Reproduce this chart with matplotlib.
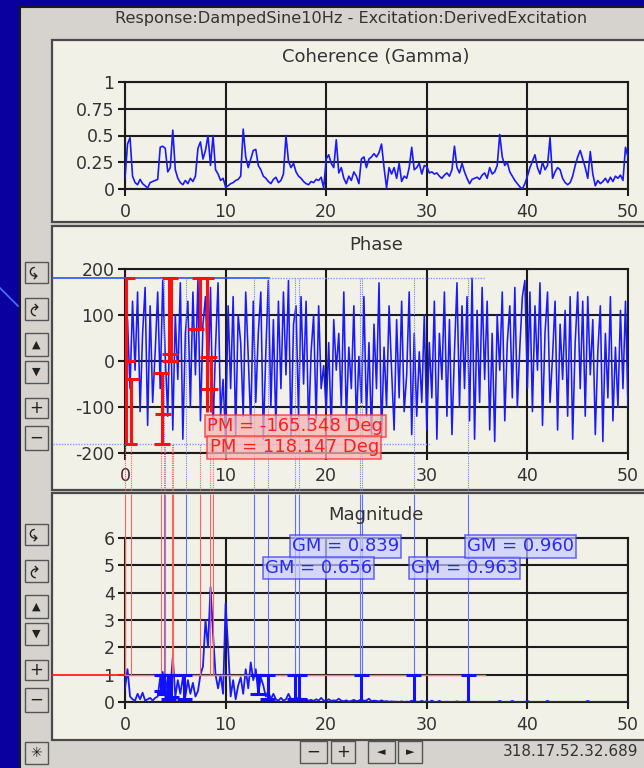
import matplotlib
matplotlib.use("Agg")
import matplotlib.pyplot as plt
import numpy as np
from matplotlib.patches import Rectangle

W, H = 644, 768

# ---- data ----
FREQ = np.arange(0, 50.01, 0.25)  # Hz bins

COHERENCE = [
    0.10, 0.42, 0.48, 0.12, 0.06, 0.04, 0.09, 0.05, 0.03, 0.01, 0.06, 0.07, 0.08, 0.09, 0.39, 0.40, 0.38, 0.16, 0.20, 0.55,
    0.18, 0.10, 0.06, 0.04, 0.08, 0.05, 0.10, 0.07, 0.12, 0.38, 0.44, 0.28, 0.36, 0.50, 0.22, 0.50, 0.18, 0.14, 0.08, 0.10,
    0.02, 0.03, 0.05, 0.06, 0.08, 0.09, 0.12, 0.56, 0.30, 0.20, 0.28, 0.36, 0.37, 0.22, 0.18, 0.12, 0.10, 0.07, 0.05, 0.09,
    0.11, 0.06, 0.08, 0.14, 0.50, 0.26, 0.20, 0.24, 0.16, 0.12, 0.10, 0.07, 0.05, 0.04, 0.07, 0.06, 0.09, 0.08, 0.11, 0.01,
    0.28, 0.32, 0.24, 0.20, 0.46, 0.15, 0.20, 0.10, 0.05, 0.12, 0.08, 0.16, 0.12, 0.05, 0.28, 0.30, 0.20, 0.28, 0.30, 0.33,
    0.30, 0.34, 0.42, 0.20, 0.01, 0.20, 0.14, 0.20, 0.10, 0.24, 0.07, 0.12, 0.10, 0.20, 0.39, 0.18, 0.20, 0.24, 0.14, 0.22,
    0.21, 0.15, 0.16, 0.14, 0.15, 0.12, 0.10, 0.13, 0.15, 0.12, 0.18, 0.40, 0.20, 0.15, 0.24, 0.16, 0.10, 0.05, 0.09, 0.10,
    0.11, 0.09, 0.13, 0.15, 0.10, 0.20, 0.14, 0.16, 0.22, 0.51, 0.30, 0.22, 0.25, 0.16, 0.12, 0.08, 0.05, 0.02, 0.00, 0.05,
    0.12, 0.20, 0.26, 0.32, 0.20, 0.14, 0.25, 0.18, 0.22, 0.48, 0.10, 0.16, 0.20, 0.18, 0.10, 0.06, 0.04, 0.06, 0.12, 0.22,
    0.30, 0.36, 0.28, 0.20, 0.10, 0.35, 0.14, 0.03, 0.08, 0.05, 0.07, 0.10, 0.06, 0.11, 0.07, 0.12, 0.10, 0.13, 0.08, 0.39,
    0.30,
]

PHASE = [
    0, 90, -60, 130, -20, 150, -110, 60, 160, -140, 120, -90, 20, 150, -60, 175, 10, -120, 140, -150,
    100, -40, 170, -170, 60, 130, -100, 150, -30, 175, -130, 80, 140, -60, 160, -150, 30, 170, -120, -40,
    -170, 120, -60, 140, -160, 100, 40, -120, 150, 10, -140, 130, -90, 60, 150, -170, 20, 175, -100, 90,
    -150, 130, -60, 150, -30, 175, -170, 80, 120, -120, 140, -50, 130, -150, 20, 100, -130, 120, -60, -10,
    -110, 40, -150, 90, -20, 60, -100, 150, -130, 30, -60, 120, -140, 10, -90, 140, -120, 40, -160, 80,
    -60, 170, -165, 30, -100, 120, -20, -150, 90, -80, 130, -110, -30, 150, -160, 60, -120, 20, -90, 100,
    -150, 40, -80, 130, -170, 60, -40, 150, -120, 90, -160, 20, 170, -100, 120, -60, 140, -130, 180, -170,
    110, -90, 160, -40, 130, -150, 60, -175, 100, -20, 150, -130, 40, 120, -80, 160, -100, 30, 140, 175,
    -60, 150, -110, 120, -20, 170, -140, 60, 150, -90, 10, 130, -150, 80, -40, 110, -120, 140, -170, 40,
    150, -60, 130, -120, 140, -30, 90, -160, 20, 120, -175, 60, -80, 140, -130, 30, -100, 110, -60, 130,
    -100,
]

MAGNITUDE = [
    0.5, 1.2, 0.2, 0.1, 0.05, 0.3, 0.1, 0.34, 0.05, 0.1, 0.15, 0.05, 0.15, 0.2, 0.9, 1.1, 0.3, 0.9, 0.4, 1.65,
    0.2, 0.8, 0.3, 0.9, 0.2, 0.8, 0.3, 0.7, 0.2, 0.4, 1.0, 1.3, 3.0, 2.0, 4.2, 2.5, 1.0, 0.5, 1.0, 0.3,
    3.6, 2.0, 0.2, 0.8, 0.1, 0.6, 0.9, 0.3, 1.2, 0.5, 1.45, 0.8, 1.2, 0.3, 0.9, 0.6, 0.2, 0.4, 0.1, 0.3,
    0.1, 0.05, 0.15, 0.05, 0.1, 0.3, 0.1, 0.05, 0.2, 0.05, 0.1, 0.05, 0.1, 0.05, 0.08, 0.04, 0.1, 0.05, 0.15, 0.05,
    0.05, 0.1, 0.04, 0.06, 0.05, 0.12, 0.05, 0.03, 0.06, 0.02, 0.04, 0.08, 0.03, 0.05, 0.1, 0.04, 0.06, 0.12, 0.03, 0.05,
    0.04, 0.02, 0.06, 0.02, 0.03, 0.01, 0.02, 0.01, 0.01, 0.0, 0.02, 0.0, 0.01, 0.0, 0.05, 0.0, 0.01, 0.0, 0.04, 0.0,
    0.03, 0.0, 0.05, 0.0, 0.0, 0.04, 0.0, 0.0, 0.01, 0.0, 0.0, 0.0, 0.02, 0.0, 0.0, 0.0, 0.01, 0.0, 0.0, 0.0,
    0.0, 0.0, 0.0, 0.0, 0.0, 0.0, 0.0, 0.0, 0.0, 0.04, 0.0, 0.0, 0.0, 0.0, 0.04, 0.0, 0.0, 0.0, 0.0, 0.0,
    0.04, 0.0, 0.0, 0.0, 0.0, 0.0, 0.0, 0.0, 0.04, 0.0, 0.0, 0.0, 0.0, 0.0, 0.0, 0.0, 0.0, 0.0, 0.0, 0.0,
    0.0, 0.0, 0.0, 0.0, 0.04, 0.0, 0.0, 0.0, 0.0, 0.0, 0.0, 0.0, 0.0, 0.0, 0.0, 0.0, 0.0, 0.0, 0.0, 0.0,
    0.0,
]

X_TICKS = [0, 10, 20, 30, 40, 50]
COH_TICKS = [0, 0.25, 0.5, 0.75, 1]
COH_LABELS = ["0", "0.25", "0.5", "0.75", "1"]
PHASE_TICKS = [-200, -100, 0, 100, 200]
MAG_TICKS = [0, 1, 2, 3, 4, 5, 6]

# phase-margin cursor: red bar segments (x, lo, hi) and caps (x, y)
PM_SEG_X = [0.1, 0.6, 3.7, 4.4, 4.6, 7.5, 8.2, 8.5]
PM_SEG_LO = [-180, -180, -180, 0, 0, 70, -110, -110]
PM_SEG_HI = [180, -40, -25, 180, 180, 180, 180, 10]
PM_CAP_X = [0.2, 0.2, 0.6, 0.4, 3.6, 3.8, 3.7, 4.5, 4.5, 4.5, 7.5, 7.1, 8.0, 8.3, 8.4]
PM_CAP_Y = [180, 0, -40, -180, -25, -115, -180, 180, 15, 0, 180, 70, 180, 8, -60]
PM_LINES_X = [0.0, 0.55, 3.6, 4.0, 4.65, 4.8, 7.45, 8.4, 8.7]
PM_TEXT = ["PM = -165.348 Deg", "PM = 118.147 Deg"]

# gain-margin cursor: blue bars (x, lo, hi=1)
GM_BAR_X = [3.6, 3.9, 4.3, 4.6, 5.9, 13.2, 14.2, 16.9, 17.3, 23.5, 28.7, 34.1]
GM_BAR_LO = [0.4, 0.3, 0.1, 0.2, 0.1, 0.3, 0.1, 0.1, 0.1, 0.0, 0.0, 0.0]
GM_LINES_X = [3.9, 6.05, 12.8, 14.2, 16.9, 17.3, 23.4, 23.6, 28.7, 34.1]
GM_TEXT = ["GM = 0.839", "GM = 0.656", "GM = 0.963", "GM = 0.960"]

assert len(COHERENCE) == len(PHASE) == len(MAGNITUDE) == len(FREQ)

# ---- colours ----
BG_BLUE = "#0a00a0"
WIN = "#d6d3ce"
PANEL = "#f2f1e7"
INK = "#1c1c1c"
TXT = "#333333"
TRACE = "#1a1aff"


def fx(px):
    return px / W


def fy(py):
    return 1 - py / H


fig = plt.figure(figsize=(W / 100, H / 100), dpi=100)
fig.patch.set_facecolor(BG_BLUE)


def rect_px(x0, y0, x1, y1, **kw):
    kw.setdefault("zorder", -5)
    r = Rectangle((fx(x0), fy(y1)), (x1 - x0) / W, (y1 - y0) / H,
                  transform=fig.transFigure, **kw)
    fig.patches.append(r)
    return r


def button(x0, y0, x1, y1, glyph, rot=0, size=9):
    rect_px(x0, y0, x1, y1, facecolor=WIN, edgecolor="#555555", lw=1.0, zorder=3)
    fig.text(fx((x0 + x1) / 2), fy((y0 + y1) / 2), glyph, ha="center", va="center",
             fontsize=size, color="#222222", rotation=rot, zorder=4)


# window chrome
rect_px(20, 7, 660, 780, facecolor=WIN, edgecolor="#1a1a1a", lw=1.5)
fig.add_artist(plt.Line2D([fx(0), fx(18)], [fy(288), fy(306)], color="#5070ff",
                          lw=1.2, transform=fig.transFigure))
fig.text(fx(351), fy(18), "Response:DampedSine10Hz - Excitation:DerivedExcitation",
         ha="center", va="center", fontsize=11.6, color=TXT)

# panels
for top, bot in [(40, 222), (226, 490), (493, 740)]:
    rect_px(52, top, 660, bot, facecolor=PANEL, edgecolor="#4a4a4a", lw=1.6)

fig.text(fx(376), fy(57), "Coherence (Gamma)", ha="center", va="center", fontsize=13, color=TXT)
fig.text(fx(376), fy(245), "Phase", ha="center", va="center", fontsize=13, color=TXT)
fig.text(fx(376), fy(515), "Magnitude", ha="center", va="center", fontsize=13, color=TXT)


def make_axes(top_px, bot_px, ylim, yticks, ylabels):
    ax = fig.add_axes([fx(125), fy(bot_px), (628 - 125) / W, (bot_px - top_px) / H])
    ax.set_facecolor("none")
    ax.set_xlim(0, 50)
    ax.set_ylim(*ylim)
    ax.set_xticks(X_TICKS)
    ax.set_yticks(yticks)
    ax.set_yticklabels(ylabels)
    ax.grid(True, color=INK, lw=1.5)
    for s in ax.spines.values():
        s.set_color(INK)
        s.set_linewidth(1.5)
    ax.tick_params(length=5, width=1.5, color=INK, labelsize=12.5, labelcolor=TXT)
    ax.tick_params(axis="y", pad=2.5)
    ax.tick_params(axis="x", pad=5)
    return ax


ax_c = make_axes(82, 189, (0, 1), COH_TICKS, COH_LABELS)
ax_p = make_axes(269, 453, (-200, 200), PHASE_TICKS, [str(t) for t in PHASE_TICKS])
ax_m = make_axes(538, 702, (0, 6), MAG_TICKS, [str(t) for t in MAG_TICKS])

# ---- coherence ----
ax_c.plot(FREQ, COHERENCE, color=TRACE, lw=1.2, zorder=3)

# ---- phase ----
ax_p.plot(FREQ, PHASE, color=TRACE, lw=1.15, zorder=3)
ax_p.plot([-7.2, 14.3], [180, 180], color="#3050ff", lw=1.2, clip_on=False, zorder=4)
ax_p.plot([14.3, 35.8], [180, 180], color="#8898ff", lw=1.0, ls=(0, (1, 1)), clip_on=False, zorder=4)
ax_p.plot([-7.2, 30.4], [-180, -180], color="#8898ff", lw=1.0, ls=(0, (1, 1)), clip_on=False, zorder=4)
ax_p.vlines(GM_LINES_X, -280, 180, color="#7080ff", lw=0.8, linestyles=(0, (1, 1)), clip_on=False, zorder=4)
ax_p.vlines(PM_LINES_X, -280, -180, color="#ff6060", lw=0.8, linestyles=(0, (1, 1)), clip_on=False, zorder=4)
ax_p.vlines(PM_SEG_X, PM_SEG_LO, PM_SEG_HI, color="#ff1010", lw=2.2, zorder=5)
ax_p.hlines(PM_CAP_Y, np.array(PM_CAP_X) - 0.8, np.array(PM_CAP_X) + 0.8, color="#ff1010", lw=2.2, zorder=5)
pm_box = dict(boxstyle="square,pad=0.12", facecolor="#f7b4b4", alpha=0.75, edgecolor="#ff3030", lw=1.2)
ax_p.text(8.2, -141, PM_TEXT[0], ha="left", va="center", fontsize=13, color="#ff2020", bbox=pm_box, zorder=6)
ax_p.text(8.4, -188, PM_TEXT[1], ha="left", va="center", fontsize=13, color="#ff2020", bbox=pm_box, zorder=6,
          clip_on=False)

# ---- magnitude ----
ax_m.plot(FREQ, MAGNITUDE, color=TRACE, lw=1.3, zorder=3)
ax_m.plot([-7.2, 0], [1, 1], color="#ff2020", lw=1.3, clip_on=False, zorder=4)
ax_m.plot([0, 35.8], [1, 1], color="#ff7070", lw=1.0, zorder=4)
ax_m.vlines(PM_LINES_X, 1, 7.6, color="#ff6060", lw=0.8, clip_on=False, zorder=4)
ax_m.vlines(GM_LINES_X, 1, 7.6, color="#6070ff", lw=0.8, clip_on=False, zorder=4)
ax_m.vlines(GM_BAR_X, GM_BAR_LO, 1, color="#1010ff", lw=2.2, zorder=5)
ax_m.hlines(GM_BAR_LO + [1] * len(GM_BAR_X),
            np.array(GM_BAR_X + GM_BAR_X) - 0.75, np.array(GM_BAR_X + GM_BAR_X) + 0.75,
            color="#1010ff", lw=2.2, zorder=5)
gm_box = dict(boxstyle="square,pad=0.12", facecolor="#c8ccff", alpha=0.7, edgecolor="#3838ff", lw=1.2)
for txt, gx, gy in zip(GM_TEXT, [16.6, 13.9, 28.4, 34.0], [5.69, 4.9, 4.9, 5.69]):
    ax_m.text(gx, gy, txt, ha="left", va="center", fontsize=13, color="#2a2aff", bbox=gm_box, zorder=6)

# ---- toolbars ----
for off in (0, 262):
    button(25, 262 + off, 48, 283 + off, "\u21b6", rot=90, size=12)
    button(25, 298 + off, 48, 320 + off, "\u21b7", rot=90, size=12)
    button(25, 333 + off, 48, 356 + off, "\u25b2", size=8)
    button(25, 361 + off, 48, 383 + off, "\u25bc", size=8)
    button(25, 398 + off, 48, 418 + off, "+", size=12)
    button(25, 426 + off, 48, 450 + off, "\u2212", size=12)

button(25, 742, 48, 764, "\u2733", size=10)
button(300, 741, 327, 763, "\u2212", size=12)
button(331, 741, 355, 763, "+", size=12)
button(368, 741, 395, 763, "\u25c4", size=8)
button(398, 741, 422, 763, "\u25ba", size=8)
fig.text(fx(638), fy(752), "318.17.52.32.689", ha="right", va="center", fontsize=11, color=TXT)

fig.savefig("out.png", dpi=100, facecolor=fig.get_facecolor())
